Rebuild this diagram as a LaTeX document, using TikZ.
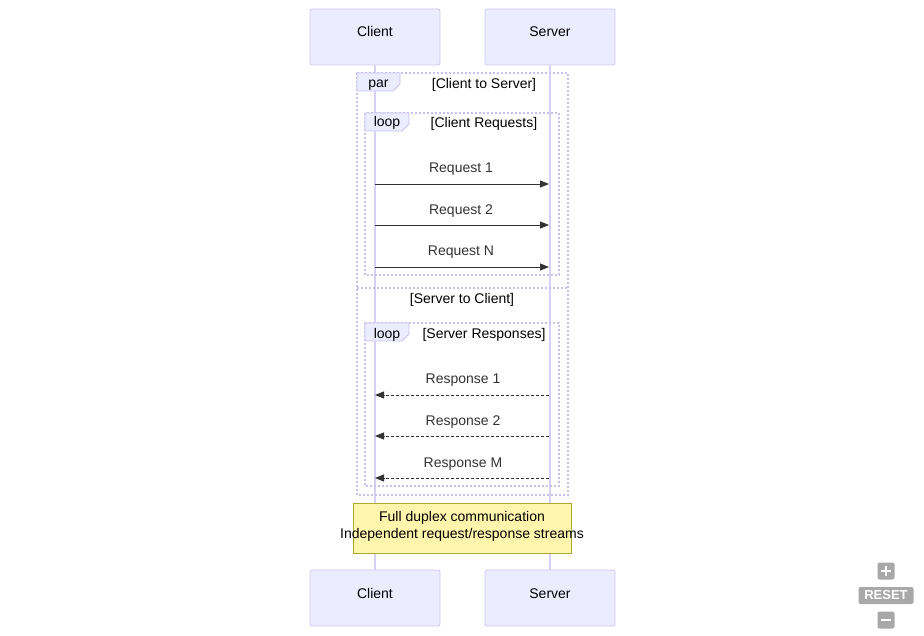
\documentclass[tikz,border=0pt]{standalone}
\usepackage{fontspec}
\setmainfont{Liberation Sans}
\usetikzlibrary{arrows.meta}
\definecolor{actfill}{HTML}{ECECFF}
\definecolor{actline}{HTML}{CFC7F2}
\definecolor{lifeline}{HTML}{D6D0F5}
\definecolor{loopline}{HTML}{C9C0EE}
\definecolor{msg}{HTML}{333333}
\definecolor{notefill}{HTML}{FFF5AD}
\definecolor{noteline}{HTML}{AAAA33}
\definecolor{ctrl}{HTML}{A8A8A8}
\tikzset{
  actor/.style={draw=actline, fill=actfill, rounded corners=2pt, minimum width=130pt, minimum height=56pt, line width=0.8pt},
  life/.style={draw=lifeline, line width=1.2pt},
  frame/.style={draw=loopline, line width=1.2pt, dash pattern=on 2pt off 2pt},
  tab/.style={draw=loopline, fill=actfill, line width=0.8pt},
  lbl/.style={font=\fontsize{14}{16}\selectfont, inner sep=0pt, text height=10pt, text depth=0pt},
  msgtxt/.style={lbl, text=msg},
  req/.style={draw=msg, line width=0.9pt, -{Triangle[length=9pt,width=7pt]}},
  resp/.style={draw=msg, line width=0.9pt, dash pattern=on 3pt off 2pt, -{Triangle[length=9pt,width=7pt]}},
  note/.style={draw=noteline, fill=notefill, line width=0.8pt, minimum width=218pt, minimum height=50pt},
  notetxt/.style={align=center, inner sep=0pt, font=\fontsize{14}{17}\selectfont},
  ctrlbox/.style={fill=ctrl, rounded corners=2pt, text=white, inner sep=0pt},
}
\begin{document}
\begin{tikzpicture}[x=1pt, y=-1pt]
\useasboundingbox (0,0) rectangle (924,636);
% actors
\node[actor] (ct) at (375,37) {};
\node[actor] (st) at (550,37) {};
\node[actor] (cb) at (375,598) {};
\node[actor] (sb) at (550,598) {};
\node[lbl] (ctl) at (375,31.5) {Client};
\node[lbl] (stl) at (550,31.5) {Server};
\node[lbl] (cbl) at (375,593.5) {Client};
\node[lbl] (sbl) at (550,593.5) {Server};
% lifelines
\draw[life] (ct.south) -- (cb.north);
\draw[life] (st.south) -- (sb.north);
% par frame
\draw[frame] (357,73) rectangle (568,495);
\draw[frame] (357,288) -- (568,288);
\draw[tab] (357,73) -- (400,73) -- (400,84) -- (393,91) -- (357,91) -- cycle;
\node[lbl] (parl) at (378.5,83) {par};
\node[lbl] (parc) at (484,84) {[Client to Server]};
\node[lbl] (parc2) at (462,299) {[Server to Client]};
% loop 1
\draw[frame] (365,113) rectangle (559,275);
\draw[tab] (365,113) -- (409,113) -- (409,124) -- (402,131) -- (365,131) -- cycle;
\node[lbl] (l1) at (387,122) {loop};
\node[lbl] (l1c) at (484,123) {[Client Requests]};
% loop 2
\draw[frame] (365,323) rectangle (559,486);
\draw[tab] (365,323) -- (409,323) -- (409,334) -- (402,341) -- (365,341) -- cycle;
\node[lbl] (l2) at (387,333) {loop};
\node[lbl] (l2c) at (484,334) {[Server Responses]};
% message anchors
\coordinate (c1) at (375,184); \coordinate (s1) at (549,184);
\coordinate (c2) at (375,225); \coordinate (s2) at (549,225);
\coordinate (c3) at (375,267); \coordinate (s3) at (549,267);
\coordinate (c4) at (375,395); \coordinate (s4) at (549,395);
\coordinate (c5) at (375,436); \coordinate (s5) at (549,436);
\coordinate (c6) at (375,478); \coordinate (s6) at (549,478);
\draw[req] (c1) -- (s1);
\draw[req] (c2) -- (s2);
\draw[req] (c3) -- (s3);
\draw[resp] (s4) -- (c4);
\draw[resp] (s5) -- (c5);
\draw[resp] (s6) -- (c6);
\node[msgtxt] (m1) at (461,168) {Request 1};
\node[msgtxt] (m2) at (461,210) {Request 2};
\node[msgtxt] (m3) at (461,251) {Request N};
\node[msgtxt] (m4) at (463,379) {Response 1};
\node[msgtxt] (m5) at (463,420) {Response 2};
\node[msgtxt] (m6) at (463,462) {Response M};
% note
\node[note] (nt) at (462,528) {};
\node[notetxt] (ntl) at (462,526.5) {Full duplex communication\\Independent request/response streams};
% controls
\node[ctrlbox, minimum width=17pt, minimum height=17pt] (zin) at (886,571) {};
\draw[white, line width=2.5pt] (zin.center) ++(-5,0) -- ++(10,0);
\draw[white, line width=2.5pt] (zin.center) ++(0,-5) -- ++(0,10);
\node[ctrlbox, minimum width=55pt, minimum height=17pt, font=\bfseries\fontsize{13}{13}\selectfont] (rst) at (886,595.5) {RESET};
\node[ctrlbox, minimum width=17pt, minimum height=17pt] (zout) at (886,620) {};
\draw[white, line width=2.5pt] (zout.center) ++(-5,0) -- ++(10,0);
\end{tikzpicture}
\end{document}
